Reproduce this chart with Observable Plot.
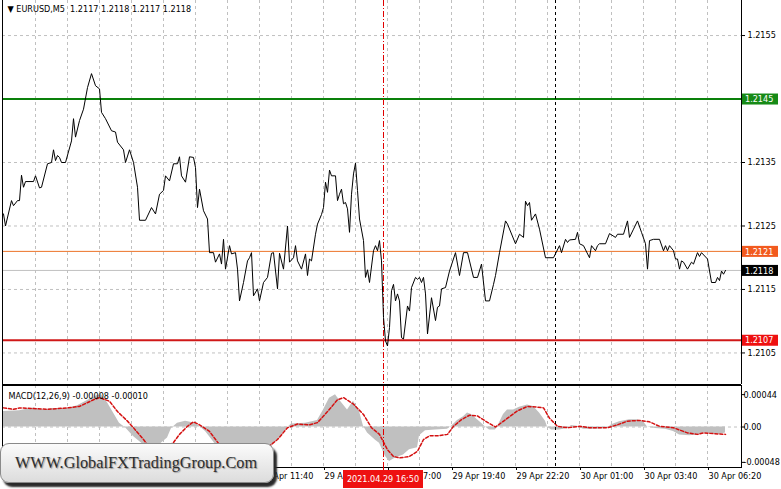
<!DOCTYPE html>
<html><head><meta charset="utf-8">
<script src="https://cdn.jsdelivr.net/npm/d3@7"></script>
<script src="https://cdn.jsdelivr.net/npm/@observablehq/plot@0.6"></script>
<style>
body{margin:0;background:#fff;}
#wrap{position:relative;width:781px;height:489px;overflow:hidden;background:#fff;}
#main{position:absolute;left:0;top:0;}
#macd{position:absolute;left:0;top:385px;}
#wm{position:absolute;left:0;top:443px;width:272px;height:38px;border-radius:9px;
 background:linear-gradient(#fbfbfb,#dcdcdc);box-shadow:3px 4px 2px #2a2a2a;border:1px solid #8a8a8a;
 font-family:'Liberation Serif','DejaVu Serif',serif;font-size:16.3px;color:#2e2e2e;line-height:38px;
 text-indent:14px;text-shadow:1px 1px 1px #999;white-space:nowrap;}
</style></head><body>
<div id="wrap"><div id="main"></div><div id="macd"></div><div id="wm">WWW.GlobalFXTradingGroup.Com</div></div>
<script>
// ---- data (time = minutes since 29 Apr 2021 00:00, M5 bars) ----
const priceTimes = [
60,65,80,85,95,100,105,110,115,135,
140,150,155,170,180,185,190,195,200,205,
215,230,235,240,250,260,270,280,290,300,
305,315,330,340,345,360,365,375,385,395,
400,415,430,440,450,460,465,475,485,495,
500,505,515,525,535,540,545,550,560,570,
575,585,590,600,605,610,615,625,630,640,
645,650,660,670,675,680,685,695,700,710,
720,730,735,745,750,760,770,775,785,790,
795,805,815,820,825,830,840,845,855,860,
865,870,875,880,890,895,900,905,910,915,
920,925,930,935,940,945,950,960,965,970,
975,985,990,995,1000,1005,1010,1015,1020,1025,
1030,1035,1040,1045,1050,1055,1060,1070,1075,1080,
1090,1095,1100,1105,1110,1115,1120,1130,1140,1145,
1150,1155,1165,1175,1190,1200,1210,1220,1235,1245,
1255,1265,1275,1285,1290,1300,1315,1320,1340,1350,
1360,1365,1370,1375,1380,1390,1400,1415,1435,1450,
1455,1465,1470,1475,1490,1495,1500,1510,1525,1530,
1540,1545,1550,1565,1575,1590,1595,1610,1620,1625,
1635,1645,1655,1665,1670,1675,1685,1700,1710,1715,
1720,1725,1735,1740,1745,1750,1755,1760,1770,1780,
1785,1795,1800,1805,1820,1830,1840,1845,1850,1855,
1860,1865];
const priceValues = [
1.21269,1.21250,1.21290,1.21282,1.21290,1.21290,1.21330,1.21311,1.21320,1.21320,
1.21329,1.21310,1.21311,1.21348,1.21350,1.21370,1.21353,1.21361,1.21358,1.21350,
1.21350,1.21384,1.21419,1.21390,1.21416,1.21434,1.21468,1.21490,1.21471,1.21466,
1.21429,1.21419,1.21400,1.21398,1.21382,1.21370,1.21350,1.21370,1.21350,1.21311,
1.21259,1.21259,1.21279,1.21269,1.21300,1.21306,1.21329,1.21321,1.21348,1.21348,
1.21359,1.21329,1.21319,1.21359,1.21358,1.21342,1.21279,1.21308,1.21274,1.21261,
1.21208,1.21208,1.21193,1.21206,1.21190,1.21229,1.21182,1.21219,1.21206,1.21208,
1.21182,1.21132,1.21161,1.21195,1.21200,1.21208,1.21140,1.21151,1.21132,1.21161,
1.21169,1.21207,1.21208,1.21151,1.21207,1.21182,1.21250,1.21193,1.21200,1.21219,
1.21195,1.21182,1.21206,1.21172,1.21198,1.21195,1.21237,1.21253,1.21268,1.21279,
1.21319,1.21303,1.21338,1.21329,1.21329,1.21290,1.21300,1.21308,1.21285,1.21287,
1.21277,1.21240,1.21300,1.21332,1.21349,1.21306,1.21261,1.21227,1.21169,1.21181,
1.21161,1.21211,1.21219,1.21211,1.21227,1.21195,1.21106,1.21069,1.21061,1.21090,
1.21148,1.21158,1.21132,1.21143,1.21132,1.21074,1.21072,1.21124,1.21116,1.21153,
1.21169,1.21166,1.21169,1.21161,1.21169,1.21143,1.21080,1.21137,1.21101,1.21122,
1.21124,1.21151,1.21153,1.21179,1.21208,1.21172,1.21208,1.21208,1.21169,1.21169,
1.21190,1.21132,1.21132,1.21158,1.21172,1.21208,1.21258,1.21253,1.21222,1.21237,
1.21232,1.21289,1.21282,1.21287,1.21259,1.21269,1.21245,1.21200,1.21200,1.21219,
1.21208,1.21229,1.21224,1.21228,1.21229,1.21240,1.21222,1.21219,1.21200,1.21219,
1.21211,1.21219,1.21222,1.21222,1.21238,1.21232,1.21237,1.21237,1.21258,1.21232,
1.21245,1.21258,1.21240,1.21222,1.21182,1.21227,1.21229,1.21229,1.21211,1.21219,
1.21211,1.21219,1.21211,1.21198,1.21198,1.21182,1.21195,1.21193,1.21182,1.21193,
1.21190,1.21208,1.21202,1.21208,1.21198,1.21161,1.21161,1.21169,1.21164,1.21179,
1.21174,1.21180];

const histTimes = [60,100,135,160,185,220,245,270,295,305,320,335,350,365,385,410,430,450,470,480,
495,515,540,550,565,585,600,625,650,675,700,720,730,750,770,780,815,845,860,875,
890,895,920,935,950,960,970,990,1000,1015,1025,1040,1060,1075,1095,1100,1115,1140,1170,1180,
1195,1210,1220,1230,1245,1255,1265,1275,1290,1295,1310,1320,1335,1350,1370,1385,1400,1415,1420,1430,
1450,1470,1480,1495,1510,1540,1570,1580,1600,1625,1645,1660,1670,1690,1715,1735,1750,1775,1795,1810,
1830,1850,1865];
const histValues = [0.00021,0.00022,0.00026,0.00023,0.00025,0.00025,0.00029,0.00036,0.00043,0.00044,0.00033,0.00019,0.00005,-0.00001,-0.00013,-0.00024,-0.00028,-0.00024,-0.00015,-0.00002,
0.00005,0.00008,0.00005,0.00001,-0.00006,-0.00020,-0.00033,-0.00040,-0.00046,-0.00044,-0.00040,-0.00032,-0.00026,-0.00015,-0.00001,0.00004,0.00005,0.00009,0.00023,0.00039,
0.00044,0.00040,0.00023,0.00035,0.00021,0.00001,-0.00008,-0.00018,-0.00022,-0.00040,-0.00047,-0.00042,-0.00038,-0.00031,-0.00028,-0.00012,-0.00005,-0.00004,-0.00003,0.00001,
0.00009,0.00014,0.00019,0.00017,0.00010,0.00005,0.00000,-0.00004,-0.00004,0.00000,0.00017,0.00023,0.00023,0.00027,0.00030,0.00028,0.00019,0.00008,0.00000,-0.00004,
-0.00004,-0.00002,0.00002,0.00001,-0.00003,-0.00003,-0.00002,0.00003,0.00007,0.00010,0.00010,0.00007,0.00000,-0.00002,-0.00003,-0.00006,-0.00011,-0.00012,-0.00011,-0.00008,
-0.00009,-0.00010,-0.00008];

const signalTimes = [60,85,100,135,170,220,250,285,300,325,345,370,385,410,420,445,465,485,500,520,
535,550,575,600,630,665,695,720,745,770,795,825,845,870,895,910,935,960,980,1000,
1020,1035,1050,1075,1095,1110,1125,1145,1170,1185,1205,1225,1245,1265,1290,1305,1320,1345,1370,1395,
1410,1425,1445,1470,1500,1525,1570,1595,1620,1650,1675,1700,1735,1770,1795,1810,1835,1865];
const signalValues = [0.00026,0.00024,0.00026,0.00025,0.00024,0.00026,0.00028,0.00037,0.00040,0.00035,0.00021,0.00008,-0.00001,-0.00017,-0.00024,-0.00029,-0.00028,-0.00021,-0.00010,0.00001,
0.00007,0.00003,-0.00006,-0.00024,-0.00035,-0.00041,-0.00040,-0.00028,-0.00017,-0.00001,0.00004,0.00003,0.00006,0.00021,0.00037,0.00040,0.00031,0.00017,-0.00001,-0.00010,
-0.00031,-0.00040,-0.00042,-0.00040,-0.00033,-0.00017,-0.00012,-0.00012,-0.00010,0.00001,0.00010,0.00016,0.00015,0.00008,0.00000,0.00006,0.00012,0.00022,0.00028,0.00027,
0.00026,0.00012,0.00001,-0.00001,0.00001,-0.00001,-0.00001,0.00003,0.00008,0.00009,0.00007,0.00001,-0.00001,-0.00008,-0.00010,-0.00008,-0.00009,-0.00010];

const gridPrices = [1.2155, 1.2145, 1.2135, 1.2125, 1.2115, 1.2105];
const axisPrices = [1.2155, 1.2135, 1.2125, 1.2115, 1.2105];
const priceTickLabels = ["1.2155", "1.2135", "1.2125", "1.2115", "1.2105"];
const gridTimes = [140,220,300,380,460,540,620,700,780,860,940,1020,1100,1180,1260,1340,1420,1500,1580,1660,1740,1820];
const labelTimes = [60,220,380,540,700,860,1020,1180,1340,1500,1660,1820];
const timeLabels = ["29 Apr 01:00","29 Apr 03:40","29 Apr 06:20","29 Apr 09:00","29 Apr 11:40","29 Apr 14:20",
  "29 Apr 17:00","29 Apr 19:40","29 Apr 22:20","30 Apr 01:00","30 Apr 03:40","30 Apr 06:20"];
const levelPrices = [1.2145, 1.2121, 1.2107];
const levelLabels = ["1.2145", "1.2121", "1.2107"];
const levelLineColors = ["#0a800a", "#ec7428", "#d01818"];
const levelBoxColors = ["#168a16", "#f25a1e", "#ee1010"];
const levelWidths = [2, 1, 2];
const bidPrice = 1.2118, bidLabel = "1.2118";
const macdTicks = [0.00044, 0, -0.00048];
const macdTickLabels = ["0.00044", "0.00", "-0.00048"];
const titleText = "▼ EURUSD,M5  1.2117 1.2118 1.2117 1.2118";
const macdTitle = "MACD(12,26,9) -0.00008 -0.00010";
const cursorTime = 1010, cursorLabel = "2021.04.29 16:50";
const dayStart = 1440;
const xDomain = [57.5, 1905];
const yDomain = [1.210003, 1.216052];
const macdDomain = [-0.00055, 0.000564];

// ---- build ----
const FONT = "'DejaVu Sans Condensed','DejaVu Sans',sans-serif";
const price = priceTimes.map((t, i) => ({t, v: priceValues[i]}));
const hist = histTimes.map((t, i) => ({t, v: histValues[i]}));
const signal = signalTimes.map((t, i) => ({t, v: signalValues[i]}));
const priceLab = new Map(axisPrices.map((p, i) => [p, priceTickLabels[i]]));
const timeLab = new Map(labelTimes.map((t, i) => [t, timeLabels[i]]));
const macdRows = macdTicks.map((m, i) => ({m, label: macdTickLabels[i]}));
const dash = {stroke: "#c0c0c0", strokeDasharray: "3,3"};

const mainChart = Plot.plot({
  width: 781, height: 385,
  marginLeft: 2, marginRight: 40, marginTop: 0, marginBottom: 1,
  x: {domain: xDomain, axis: null},
  y: {domain: yDomain, axis: null},
  style: {fontFamily: FONT, fontSize: "9px", color: "#000", background: "#fff"},
  marks: [
    Plot.ruleY(gridPrices, dash),
    Plot.ruleX(gridTimes, dash),
    Plot.ruleY([bidPrice], {stroke: "#c0c0c0"}),
    ...levelPrices.map((p, i) => Plot.ruleY([p], {stroke: levelLineColors[i], strokeWidth: levelWidths[i]})),
    Plot.ruleX([dayStart], {stroke: "#000", strokeDasharray: "3,3"}),
    Plot.ruleX([cursorTime], {stroke: "#e00000", strokeDasharray: "6,2,1,2"}),
    Plot.line(price, {x: "t", y: "v", stroke: "#000", strokeWidth: 1}),
    Plot.ruleX([xDomain[0], xDomain[1]], {stroke: "#000"}),
    Plot.ruleY([yDomain[0]], {stroke: "#000"}),
    Plot.axisY({anchor: "right", label: null, ticks: axisPrices, tickFormat: d => priceLab.get(d), tickSize: 3, tickPadding: 3}),
    Plot.text([titleText], {frameAnchor: "top-left", dx: 5, dy: 5, lineAnchor: "top", textAnchor: "start", fill: "#000"})
  ]
});
document.getElementById("main").appendChild(mainChart);

// price boxes on the right scale
{
  const ys = mainChart.scale("y");
  const svg = d3.select(mainChart);
  const g = svg.append("g").attr("font-family", FONT).attr("font-size", 9).attr("text-anchor", "start");
  const boxes = levelPrices.map((p, i) => ({p, label: levelLabels[i], fill: levelBoxColors[i]}))
    .concat([{p: bidPrice, label: bidLabel, fill: "#000"}]);
  boxes.forEach(b => {
    const y = ys.apply(b.p);
    g.append("rect").attr("x", 742).attr("y", y - 5).attr("width", 36).attr("height", 11).attr("fill", b.fill);
    g.append("text").attr("x", 745).attr("y", y + 0.5).attr("dy", "0.35em").attr("fill", "#fff").text(b.label);
  });
}

const macdChart = Plot.plot({
  width: 781, height: 104,
  marginLeft: 2, marginRight: 40, marginTop: 0, marginBottom: 22,
  x: {domain: xDomain, axis: null},
  y: {domain: macdDomain, axis: null},
  style: {fontFamily: FONT, fontSize: "9px", color: "#000", background: "transparent"},
  marks: [
    Plot.ruleY([0], dash),
    Plot.ruleX(gridTimes, dash),
    Plot.areaY(hist, {x: "t", y1: 0, y2: "v", fill: "#c0c0c0"}),
    Plot.line(signal, {x: "t", y: "v", stroke: "#d41010", strokeDasharray: "3,2"}),
    Plot.ruleX([dayStart], {stroke: "#000", strokeDasharray: "3,3"}),
    Plot.ruleX([cursorTime], {stroke: "#e00000", strokeDasharray: "6,2,1,2", y1: macdDomain[1], y2: macdDomain[0]}),
    Plot.frame({stroke: "#000"}),
    Plot.axisY({anchor: "right", label: null, ticks: macdTicks, tickFormat: () => "", tickSize: 3}),
    Plot.text(macdRows, {y: "m", text: "label", frameAnchor: "right", textAnchor: "start", dx: 2, fill: "#000"}),
    Plot.axisX({anchor: "bottom", label: null, ticks: labelTimes, tickFormat: d => timeLab.get(d), tickSize: 3, tickPadding: 2, textAnchor: "start", dx: 1}),
    Plot.text([macdTitle], {frameAnchor: "top-left", dx: 6, dy: 7, lineAnchor: "top", textAnchor: "start", fill: "#000"})
  ]
});
document.getElementById("macd").appendChild(macdChart);

// current-time box on the time scale
{
  const xs = macdChart.scale("x");
  const svg = d3.select(macdChart);
  const cx = xs.apply(cursorTime);
  svg.append("line").attr("x1", cx + 0.5).attr("x2", cx + 0.5).attr("y1", 82).attr("y2", 86).attr("stroke", "#e00000");
  svg.append("rect").attr("x", cx - 40).attr("y", 85).attr("width", 80).attr("height", 18).attr("fill", "#ee1111");
  svg.append("text").attr("x", cx).attr("y", 94).attr("dy", "0.35em").attr("text-anchor", "middle")
    .attr("fill", "#fff").attr("font-family", FONT).attr("font-size", 9).text(cursorLabel);
}
</script></body></html>
